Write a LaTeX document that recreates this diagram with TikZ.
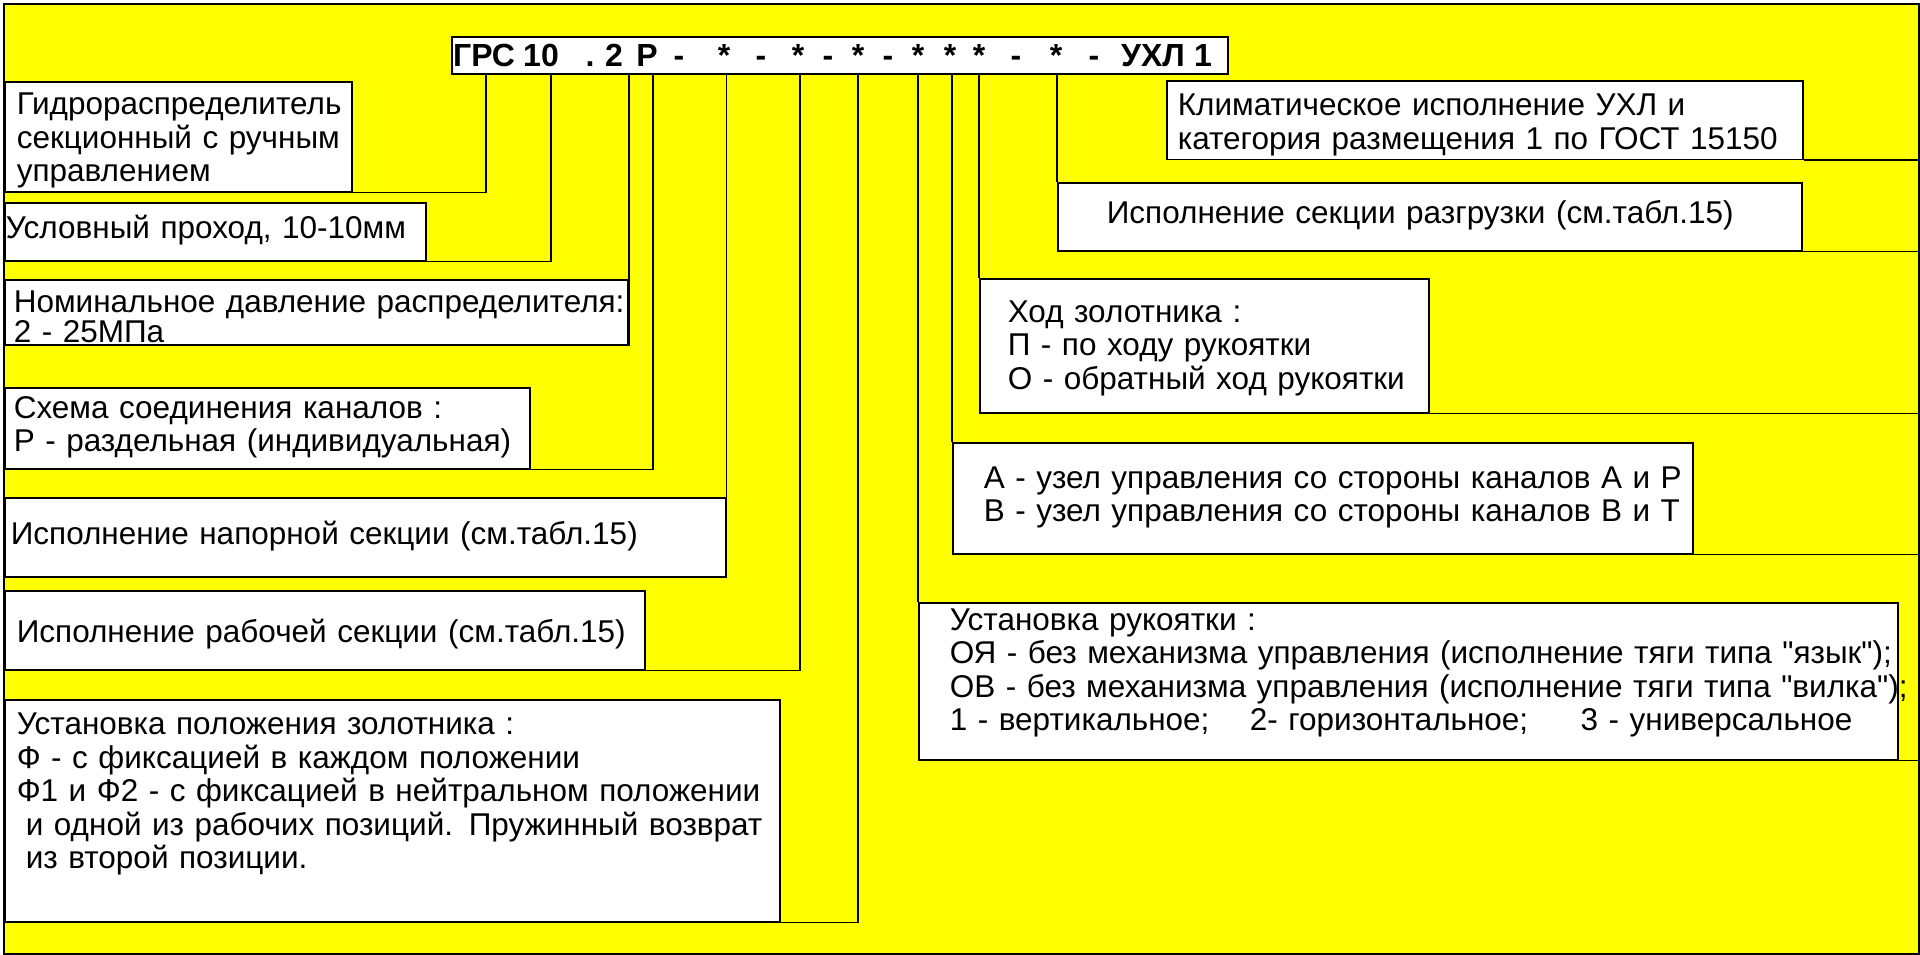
\documentclass[tikz,border=0pt]{standalone}
\usepackage{fontspec}
\setmainfont{Liberation Sans}
\definecolor{fond}{RGB}{255,255,0}
\newcommand{\descrfont}{\fontsize{31.5}{33.5}\selectfont}
\newcommand{\codefont}{\fontsize{32}{38}\selectfont\bfseries}
\newcommand{\boxlines}[1]{\begin{tabular}[t]{@{}l@{}}#1\end{tabular}}
\tikzset{% This is the style settings for frame, boxes and leaders
    outerframe/.style={draw=black, fill=fond, line width=1.6pt, anchor=north west, inner sep=0pt},
    codebox/.style={draw=black, fill=white, line width=1.6pt, anchor=north west, inner sep=0pt},
    codechar/.style={anchor=base, inner sep=0pt, font=\codefont},
    descr/.style={draw=black, fill=white, line width=1.6pt, anchor=north west, align=left,
        inner ysep=0pt, font=\descrfont},
    leader/.style={draw=black, line width=1.6pt}}

\begin{document}
\begin{tikzpicture}[x=1pt, y=-1pt]
    \useasboundingbox (0,0) rectangle (1920,955);
    \node[outerframe, minimum width=1915pt, minimum height=950pt] (frame) at (3,3) {};

    % designation string
    \node[codebox, minimum width=776pt, minimum height=37pt] (title) at (451,36) {};
    \foreach \cx/\glyph in {484/ГРС, 541/10, 590/., 614/2, 647/Р, 679/-, 724/*, 761/-,
        798/*, 828/-, 858/*, 888/-, 918/*, 950/*, 979/*, 1016/-, 1056/*, 1094/-,
        1153/УХЛ, 1203/1}
        \node[codechar] (g\cx) at (\cx,67) {\glyph};

    % left column
    \node[descr, text width=323pt, inner xsep=12pt, minimum height=109pt] (b1) at (4,81)
        {\boxlines{\rule{0pt}{33pt}Гидрораспределитель\\секционный с ручным\\управлением}};
    \node[descr, text width=419pt, inner xsep=1pt, minimum height=58pt] (b2) at (4,202)
        {\boxlines{Условный проход, 10-10мм}};
    \node[descr, text width=605pt, inner xsep=9pt, minimum height=65pt,
        text height=33pt, text depth=32pt] (b3) at (4,279)
        {\boxlines{Номинальное давление распределителя:\\[-3.5pt]2 - 25МПа}};
    \node[descr, text width=507pt, inner xsep=9pt, minimum height=81pt] (b4) at (4,387)
        {\boxlines{Схема соединения каналов :\\Р - раздельная (индивидуальная)}};
    \node[descr, text width=709pt, inner xsep=6pt, minimum height=79pt] (b5) at (4,497)
        {\boxlines{Исполнение напорной секции (см.табл.15)}};
    \node[descr, text width=616pt, inner xsep=12pt, minimum height=79pt] (b6) at (4,590)
        {\boxlines{\rule{0pt}{35pt}Исполнение рабочей секции (см.табл.15)}};
    \node[descr, text width=751pt, inner xsep=12pt, minimum height=222pt] (b7) at (4,699)
        {\boxlines{Установка положения золотника :\\Ф - с фиксацией в каждом положении\\
         Ф1 и Ф2 - с фиксацией в нейтральном положении\\
         \hspace*{9pt}и одной из рабочих позиций. Пружинный возврат\\
         \hspace*{9pt}из второй позиции.\rule[-42pt]{0pt}{0pt}}};

    % right column
    \node[descr, text width=614pt, inner xsep=11pt, minimum height=78pt] (b8) at (1166,80)
        {\boxlines{\rule{0pt}{35pt}Климатическое исполнение УХЛ и\\категория размещения 1 по ГОСТ 15150}};
    \node[descr, text width=646pt, inner xsep=49pt, minimum height=68pt] (b9) at (1057,182)
        {\boxlines{Исполнение секции разгрузки (см.табл.15)}};
    \node[descr, text width=393pt, inner xsep=28pt, minimum height=134pt] (b10) at (979,278)
        {\boxlines{\rule{0pt}{30pt}Ход золотника :\\П - по ходу рукоятки\\О - обратный ход рукоятки}};
    \node[descr, text width=678pt, inner xsep=31pt, minimum height=111pt] (b11) at (952,442)
        {\boxlines{А - узел управления со стороны каналов А и Р\\В - узел управления со стороны каналов В и Т}};
    \node[descr, text width=917pt, inner xsep=31pt, minimum height=157pt] (b12) at (918,602)
        {\boxlines{Установка рукоятки :\\
         ОЯ - без механизма управления (исполнение тяги типа \textquotedbl язык\textquotedbl);\\
         ОВ - без механизма управления (исполнение тяги типа \textquotedbl вилка\textquotedbl);\\
         \makebox[300pt][l]{1 - вертикальное;}\makebox[331pt][l]{2- горизонтальное;}3 - универсальное\rule[-25pt]{0pt}{0pt}}};

    % ticks under the designation
    \coordinate (k1) at (486,0);
    \coordinate (k2) at (551,0);
    \coordinate (k3) at (629,0);
    \coordinate (k4) at (653,0);
    \coordinate (k6) at (800,0);
    \coordinate (k7) at (858,0);

    \draw[leader] (title.south -| k1) |- (b1.south east);
    \draw[leader] (title.south -| k2) |- (b2.south east);
    \draw[leader] (title.south -| k3) |- (b3.south east);
    \draw[leader] (title.south -| k4) |- (b4.south east);
    \draw[leader] (title.south -| b5.north east) -- (b5.north east);
    \draw[leader] (title.south -| k6) |- (b6.south east);
    \draw[leader] (title.south -| k7) |- (b7.south east);
    \draw[leader] (title.south -| b12.north west) -- (b12.north west);
    \draw[leader] (title.south -| b11.north west) -- (b11.north west);
    \draw[leader] (title.south -| b10.north west) -- (b10.north west);
    \draw[leader] (title.south -| b9.north west) -- (b9.north west);
    \draw[leader] (b8.south east) -- (b8.south east -| frame.east);
    \draw[leader] (b9.south east) -- (b9.south east -| frame.east);
    \draw[leader] (b10.south east) -- (b10.south east -| frame.east);
    \draw[leader] (b11.south east) -- (b11.south east -| frame.east);
    \draw[leader] (b12.south east) -- (b12.south east -| frame.east);
\end{tikzpicture}
\end{document}
